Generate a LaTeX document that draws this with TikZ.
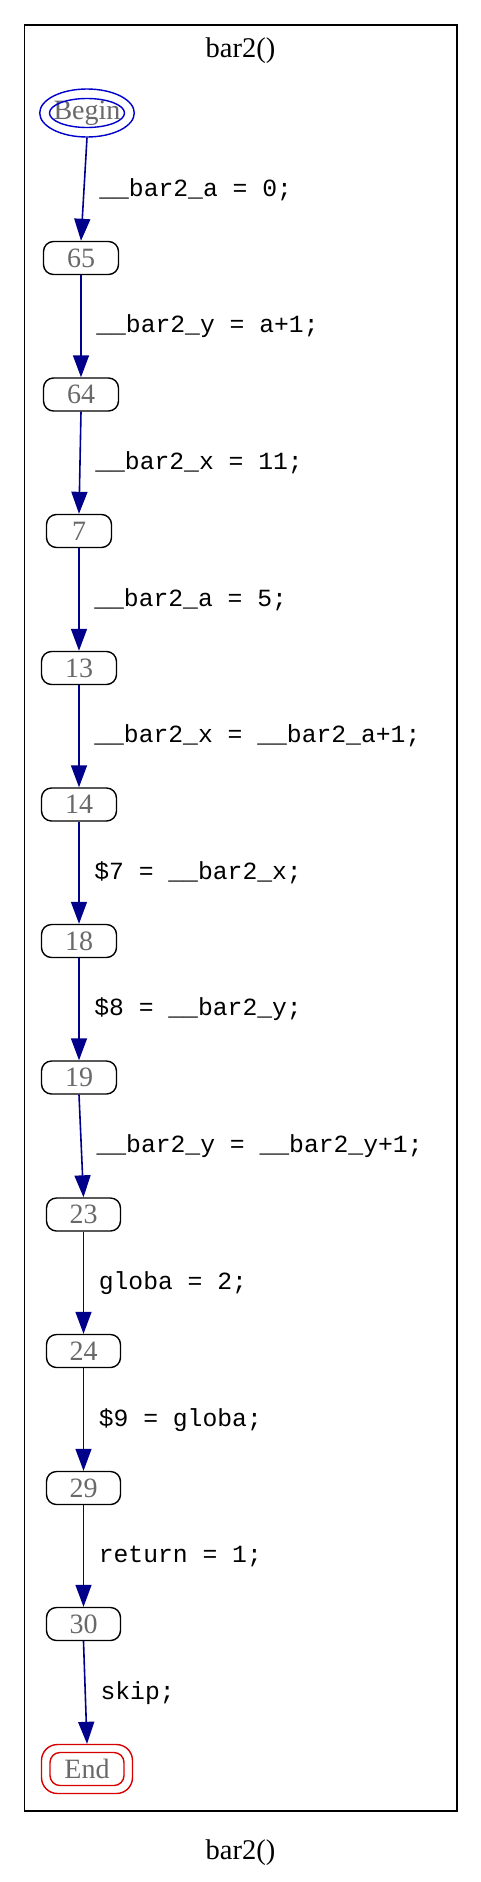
\documentclass[tikz,border=0pt]{standalone}
\usepackage{fontspec}
\setmainfont{Liberation Serif}
\newfontfamily\lblfont{Liberation Mono}
\usetikzlibrary{arrows.meta,shapes.geometric}
\definecolor{edgecol}{RGB}{0,0,139}
\definecolor{begincol}{RGB}{0,0,205}
\definecolor{endcol}{RGB}{215,0,0}
\definecolor{txtgray}{RGB}{105,105,105}
\tikzset{
  stmt/.style={draw=black, line width=1.4pt, rounded corners=10pt, minimum height=33pt,
    inner sep=0pt, text=txtgray, font=\fontsize{28}{28}\selectfont},
  edge/.style={draw=edgecol, line width=1.6pt, -{Triangle[length=22pt,width=16pt]}},
  lbl/.style={anchor=base west, inner sep=0pt, xshift=14.5pt, yshift=-6.5pt,
    font=\lblfont\fontsize{24.7}{24.7}\selectfont, text=black},
  ttl/.style={anchor=base, inner sep=0pt, font=\fontsize{28.5}{28.5}\selectfont}
}
\begin{document}
\begin{tikzpicture}[x=1pt,y=-1pt]
\useasboundingbox (0,0) rectangle (481,1882);
\draw[line width=1.6pt] (24.5,25) rectangle (456.7,1811);
\node[ttl] (title) at (240.5,57) {bar2()};
\node[ttl] (caption) at (240.5,1859) {bar2()};

\node[ellipse, draw=begincol, line width=1.4pt, minimum width=91pt, minimum height=48pt,
  inner sep=0pt, text=txtgray, font=\fontsize{28}{28}\selectfont] (begin) at (87,113) {Begin};
\node[ellipse, draw=begincol, line width=1.4pt, minimum width=75pt, minimum height=29pt,
  inner sep=0pt] (beginin) at (begin.center) {};

\node[stmt, minimum width=75pt] (n65) at (81,258) {65};
\node[stmt, minimum width=75pt] (n64) at (81,394.5) {64};
\node[stmt, minimum width=65pt] (n7) at (79,531) {7};
\node[stmt, minimum width=75pt] (n13) at (79,668) {13};
\node[stmt, minimum width=75pt] (n14) at (79,804.5) {14};
\node[stmt, minimum width=75pt] (n18) at (79,941) {18};
\node[stmt, minimum width=75pt] (n19) at (79,1077.5) {19};
\node[stmt, minimum width=74pt] (n23) at (83.5,1214.5) {23};
\node[stmt, minimum width=74pt] (n24) at (83.5,1351) {24};
\node[stmt, minimum width=74pt] (n29) at (83.5,1488) {29};
\node[stmt, minimum width=74pt] (n30) at (83.5,1624) {30};

\node[stmt, draw=endcol, rounded corners=16pt, minimum width=91pt, minimum height=49pt] (end) at (87,1769) {End};
\node[stmt, draw=endcol, minimum width=74pt, minimum height=33pt] (endin) at (end.center) {};

\draw[edge] (begin.south) -- node[lbl, yshift=-1pt] {\_\_bar2\_a = 0;} (n65.north);
\draw[edge] (n65.south) -- node[lbl] {\_\_bar2\_y = a+1;} (n64.north);
\draw[edge] (n64.south) -- node[lbl] {\_\_bar2\_x = 11;} (n7.north);
\draw[edge] (n7.south) -- node[lbl] {\_\_bar2\_a = 5;} (n13.north);
\draw[edge] (n13.south) -- node[lbl] {\_\_bar2\_x = \_\_bar2\_a+1;} (n14.north);
\draw[edge] (n14.south) -- node[lbl] {\$7 = \_\_bar2\_x;} (n18.north);
\draw[edge] (n18.south) -- node[lbl] {\$8 = \_\_bar2\_y;} (n19.north);
\draw[edge] (n19.south) -- node[lbl] {\_\_bar2\_y = \_\_bar2\_y+1;} (n23.north);
\draw[edge] (n23.south) -- node[lbl] {globa = 2;} (n24.north);
\draw[edge] (n24.south) -- node[lbl] {\$9 = globa;} (n29.north);
\draw[edge] (n29.south) -- node[lbl] {return = 1;} (n30.north);
\draw[edge] (n30.south) -- node[lbl] {skip;} (end.north);
\end{tikzpicture}
\end{document}
